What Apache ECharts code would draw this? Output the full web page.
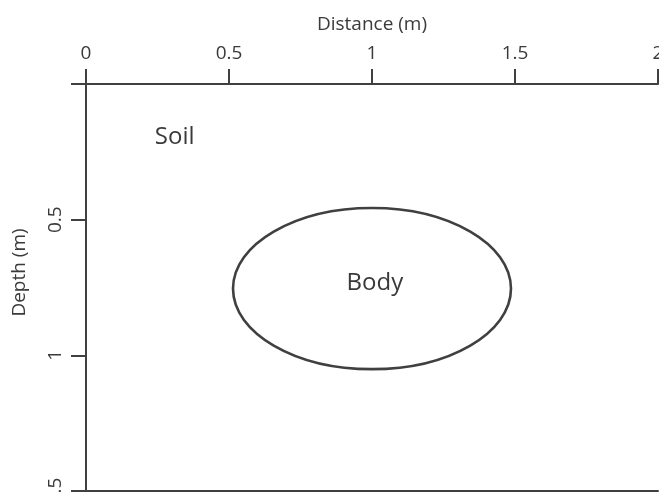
<!DOCTYPE html>
<html>
<head>
<meta charset="utf-8">
<script src="https://cdn.jsdelivr.net/npm/echarts@6/dist/echarts.min.js"></script>
<style>
  html, body { margin: 0; padding: 0; background: #fff; }
  #main { width: 659px; height: 492px; }
</style>
</head>
<body>
<div id="main"></div>
<script>
// axis ticks (m)
var distanceTicks = [0, 0.5, 1, 1.5, 2];
var depthTicks = [0, 0.5, 1, 1.5];

// body: centre and half-axes (m)
var bodyCenter = [1.0, 0.754];
var bodyHalfAxes = [0.486, 0.297];

// text labels placed in the section
var labelNames = ['Soil', 'Body'];
var labelX = [0.31, 1.01];
var labelY = [0.197, 0.733];

var ink = '#404040';
var textInk = '#3a3a3a';
var font = 'Open Sans';

var labelData = [];
for (var i = 0; i < labelNames.length; i++) {
	labelData.push({ name: labelNames[i], value: [labelX[i], labelY[i]] });
}

var myChart = echarts.init(document.getElementById('main'));
var option = {
	backgroundColor: '#fff',
	animation: false,
	grid: { left: 86, top: 84, right: 1, bottom: 1, outerBoundsMode: 'none', containLabel: false },
	xAxis: [
		{
			type: 'value',
			position: 'top',
			min: distanceTicks[0],
			max: distanceTicks[distanceTicks.length - 1],
			interval: 0.5,
			name: 'Distance (m)',
			nameLocation: 'middle',
			nameGap: 50,
			nameTextStyle: { color: textInk, fontSize: 19, fontFamily: font },
			axisLine: { show: true, lineStyle: { color: ink, width: 2 } },
			axisTick: { show: true, length: 15, lineStyle: { color: ink, width: 2 } },
			axisLabel: { margin: 21, color: textInk, fontSize: 19, fontFamily: font },
			splitLine: { show: false }
		},
		{
			type: 'value',
			position: 'bottom',
			min: distanceTicks[0],
			max: distanceTicks[distanceTicks.length - 1],
			axisLine: { show: true, onZero: false, lineStyle: { color: ink, width: 2 } },
			axisTick: { show: false },
			axisLabel: { show: false },
			splitLine: { show: false }
		}
	],
	yAxis: {
		type: 'value',
		inverse: true,
		min: depthTicks[0],
		max: depthTicks[depthTicks.length - 1],
		interval: 0.5,
		name: 'Depth (m)',
		nameLocation: 'middle',
		nameRotate: 90,
		nameGap: 57,
		nameTextStyle: { color: textInk, fontSize: 19, fontFamily: font, padding: [0, 0, 0, 30] },
		axisLine: { show: true, onZero: false, lineStyle: { color: ink, width: 2 } },
		axisTick: { show: true, length: 15, lineStyle: { color: ink, width: 2 } },
		axisLabel: {
			rotate: 90,
			margin: 21,
			color: textInk,
			fontSize: 19,
			fontFamily: font,
			formatter: function (v) { return v === 0 ? '' : String(v); }
		},
		splitLine: { show: false }
	},
	series: [
		{
			type: 'custom',
			xAxisIndex: 0,
			data: [[bodyCenter[0], bodyCenter[1], bodyHalfAxes[0], bodyHalfAxes[1]]],
			renderItem: function (params, api) {
				var c = api.coord([api.value(0), api.value(1)]);
				var s = api.size([api.value(2), api.value(3)]);
				return {
					type: 'ellipse',
					shape: { cx: c[0], cy: c[1], rx: s[0], ry: s[1] },
					style: { fill: null, stroke: ink, lineWidth: 2.6 }
				};
			}
		},
		{
			type: 'scatter',
			xAxisIndex: 0,
			symbolSize: 0,
			itemStyle: { opacity: 1 },
			data: labelData,
			label: {
				show: true,
				position: 'inside',
				formatter: '{b}',
				color: textInk,
				opacity: 1,
				fontSize: 24,
				fontFamily: font
			}
		}
	]
};
myChart.setOption(option);
</script>
</body>
</html>
